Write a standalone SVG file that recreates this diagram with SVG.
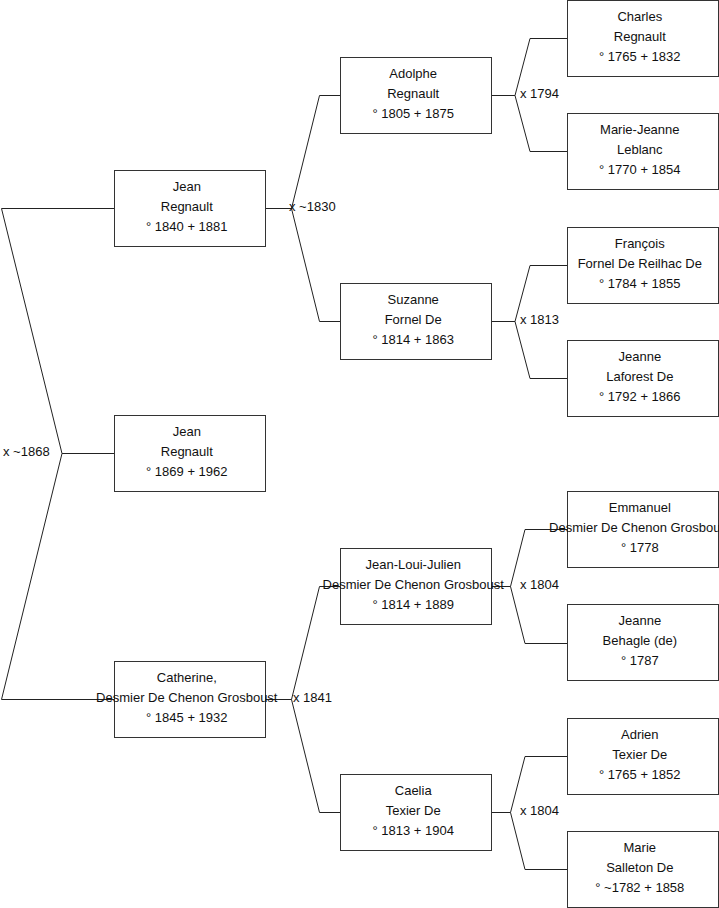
<svg xmlns="http://www.w3.org/2000/svg" width="719" height="908" viewBox="0 0 719 908">
<style>
.box{fill:#fff;stroke:#333;stroke-width:1}
.ln{fill:none;stroke:#222;stroke-width:1}
text{font-family:"Liberation Sans",Arial,sans-serif;font-size:13px;fill:#111}
.t{text-anchor:middle}
</style>
<rect width="719" height="908" fill="#fff"/>
<g id="connectors">
<polyline class="ln" points="114,208.5 1.5,208.5 62,453.5 1.5,699.5 114,699.5"/>
<line class="ln" x1="62" y1="453.5" x2="114" y2="453.5"/>
<line class="ln" x1="265" y1="208.5" x2="291.5" y2="208.5"/>
<polyline class="ln" points="340,95.5 319.5,95.5 291.5,208.5 319.5,321.5 340,321.5"/>
<line class="ln" x1="265" y1="699.5" x2="291.5" y2="699.5"/>
<polyline class="ln" points="340,586.5 319.5,586.5 291.5,699.5 319.5,812.5 340,812.5"/>
<line class="ln" x1="491" y1="95.5" x2="515" y2="95.5"/>
<polyline class="ln" points="567,38.5 530,38.5 515,95.5 530,151.5 567,151.5"/>
<line class="ln" x1="491" y1="321.5" x2="515" y2="321.5"/>
<polyline class="ln" points="567,265.5 530,265.5 515,321.5 530,378.5 567,378.5"/>
<line class="ln" x1="491" y1="586.5" x2="510.5" y2="586.5"/>
<polyline class="ln" points="567,529.5 525,529.5 510.5,586.5 525,643.5 567,643.5"/>
<line class="ln" x1="491" y1="812.5" x2="510.5" y2="812.5"/>
<polyline class="ln" points="567,756.5 525,756.5 510.5,812.5 525,869.5 567,869.5"/>
<text x="3" y="455.5">x ~1868</text>
<text x="289" y="210.5">x ~1830</text>
<text x="293" y="701.5">x 1841</text>
<text x="520" y="97.5">x 1794</text>
<text x="520" y="323.5">x 1813</text>
<text x="520" y="588.5">x 1804</text>
<text x="520" y="814.5">x 1804</text>
</g>
<g id="n-jean-1840">
<rect class="box" x="114.5" y="170.5" width="151" height="76"/>
<text class="t" x="186.8" y="190.5">Jean</text>
<text class="t" x="186.8" y="210.5">Regnault</text>
<text class="t" x="186.8" y="230.5">° 1840 + 1881</text>
</g>
<g id="n-jean-1869">
<rect class="box" x="114.5" y="415.5" width="151" height="76"/>
<text class="t" x="186.8" y="435.5">Jean</text>
<text class="t" x="186.8" y="455.5">Regnault</text>
<text class="t" x="186.8" y="475.5">° 1869 + 1962</text>
</g>
<g id="n-catherine">
<rect class="box" x="114.5" y="661.5" width="151" height="76"/>
<text class="t" x="186.8" y="681.5">Catherine,</text>
<text class="t" x="186.8" y="701.5">Desmier De Chenon Grosboust</text>
<text class="t" x="186.8" y="721.5">° 1845 + 1932</text>
</g>
<g id="n-adolphe">
<rect class="box" x="340.5" y="57.5" width="151" height="76"/>
<text class="t" x="413.2" y="77.5">Adolphe</text>
<text class="t" x="413.2" y="97.5">Regnault</text>
<text class="t" x="413.2" y="117.5">° 1805 + 1875</text>
</g>
<g id="n-suzanne">
<rect class="box" x="340.5" y="283.5" width="151" height="76"/>
<text class="t" x="413.2" y="303.5">Suzanne</text>
<text class="t" x="413.2" y="323.5">Fornel De</text>
<text class="t" x="413.2" y="343.5">° 1814 + 1863</text>
</g>
<g id="n-jean-loui-julien">
<rect class="box" x="340.5" y="548.5" width="151" height="76"/>
<text class="t" x="413.2" y="568.5">Jean-Loui-Julien</text>
<text class="t" x="413.2" y="588.5">Desmier De Chenon Grosboust</text>
<text class="t" x="413.2" y="608.5">° 1814 + 1889</text>
</g>
<g id="n-caelia">
<rect class="box" x="340.5" y="774.5" width="151" height="76"/>
<text class="t" x="413.2" y="794.5">Caelia</text>
<text class="t" x="413.2" y="814.5">Texier De</text>
<text class="t" x="413.2" y="834.5">° 1813 + 1904</text>
</g>
<g id="n-charles">
<rect class="box" x="567.5" y="0.5" width="151" height="76"/>
<text class="t" x="639.8" y="20.5">Charles</text>
<text class="t" x="639.8" y="40.5">Regnault</text>
<text class="t" x="639.8" y="60.5">° 1765 + 1832</text>
</g>
<g id="n-marie-jeanne">
<rect class="box" x="567.5" y="113.5" width="151" height="76"/>
<text class="t" x="639.8" y="133.5">Marie-Jeanne</text>
<text class="t" x="639.8" y="153.5">Leblanc</text>
<text class="t" x="639.8" y="173.5">° 1770 + 1854</text>
</g>
<g id="n-francois">
<rect class="box" x="567.5" y="227.5" width="151" height="76"/>
<text class="t" x="639.8" y="247.5">François</text>
<text class="t" x="639.8" y="267.5">Fornel De Reilhac De</text>
<text class="t" x="639.8" y="287.5">° 1784 + 1855</text>
</g>
<g id="n-jeanne-laforest">
<rect class="box" x="567.5" y="340.5" width="151" height="76"/>
<text class="t" x="639.8" y="360.5">Jeanne</text>
<text class="t" x="639.8" y="380.5">Laforest De</text>
<text class="t" x="639.8" y="400.5">° 1792 + 1866</text>
</g>
<g id="n-emmanuel">
<rect class="box" x="567.5" y="491.5" width="151" height="76"/>
<text class="t" x="639.8" y="511.5">Emmanuel</text>
<text class="t" x="639.8" y="531.5">Desmier De Chenon Grosboust</text>
<text class="t" x="639.8" y="551.5">° 1778</text>
</g>
<g id="n-jeanne-behagle">
<rect class="box" x="567.5" y="604.5" width="151" height="76"/>
<text class="t" x="639.8" y="624.5">Jeanne</text>
<text class="t" x="639.8" y="644.5">Behagle (de)</text>
<text class="t" x="639.8" y="664.5">° 1787</text>
</g>
<g id="n-adrien">
<rect class="box" x="567.5" y="718.5" width="151" height="76"/>
<text class="t" x="639.8" y="738.5">Adrien</text>
<text class="t" x="639.8" y="758.5">Texier De</text>
<text class="t" x="639.8" y="778.5">° 1765 + 1852</text>
</g>
<g id="n-marie-salleton">
<rect class="box" x="567.5" y="831.5" width="151" height="76"/>
<text class="t" x="639.8" y="851.5">Marie</text>
<text class="t" x="639.8" y="871.5">Salleton De</text>
<text class="t" x="639.8" y="891.5">° ~1782 + 1858</text>
</g>
</svg>
